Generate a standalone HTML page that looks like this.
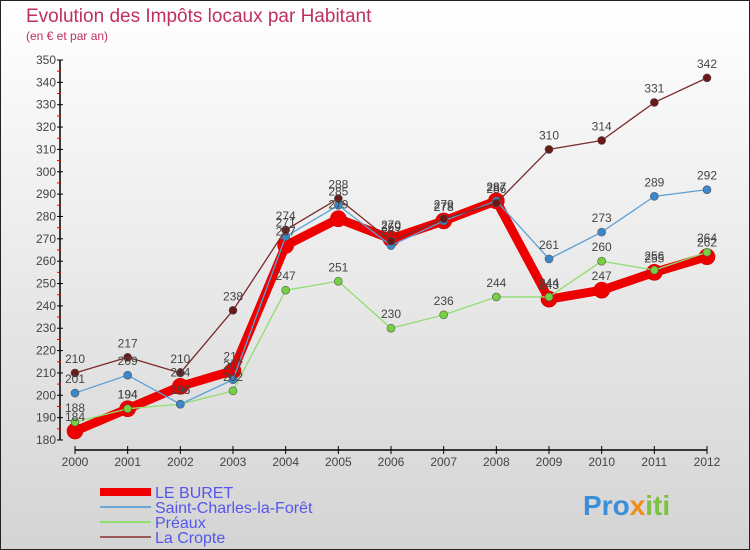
<!DOCTYPE html>
<html><head><meta charset="utf-8"><style>
body{margin:0}
svg{display:block;font-family:"Liberation Sans",sans-serif}
</style></head><body>
<svg id="c" width="750" height="550" viewBox="0 0 750 550">
<defs><linearGradient id="bg" x1="0" y1="0" x2="0" y2="1"><stop offset="0" stop-color="#ffffff"/><stop offset="1" stop-color="#d4d4d4"/></linearGradient></defs>
<rect x="0.5" y="0.5" width="749" height="549" fill="url(#bg)" stroke="#222"/>
<text x="26" y="22" font-size="19" fill="#c0305e">Evolution des Impôts locaux par Habitant</text>
<text x="26" y="40" font-size="12" fill="#c0305e">(en € et par an)</text>
<g id="axes"></g>
<g id="series"></g>
<g id="labels"></g>
<g id="legend"></g>
<text x="583" y="515" font-size="28" font-weight="bold" fill="#3a8fd8">Pro<tspan fill="#f08c1a">x</tspan><tspan fill="#7cc142">iti</tspan></text>
</svg>
<script>
const years=[2000,2001,2002,2003,2004,2005,2006,2007,2008,2009,2010,2011,2012];
const leBuret=[184,194,204,211,267,279,270,278,287,243,247,255,262];
const saintCharles=[201,209,196,207,271,285,267,278,287,261,273,289,292];
const preaux=[188,194,196,202,247,251,230,236,244,244,260,256,264];
const laCropte=[210,217,210,238,274,288,269,279,286,310,314,331,342];
const yTicks=[180,190,200,210,220,230,240,250,260,270,280,290,300,310,320,330,340,350];
const seriesNames=["LE BURET","Saint-Charles-la-Forêt","Préaux","La Cropte"];

const NS="http://www.w3.org/2000/svg";
function X(i){return 75+i*(707-75)/12;}
function Y(v){return 440-(v-180)*(380/170);}
function mk(tag,attrs,parent){const e=document.createElementNS(NS,tag);for(const k in attrs)e.setAttribute(k,attrs[k]);parent.appendChild(e);return e;}
const axes=document.getElementById('axes'),ser=document.getElementById('series'),lab=document.getElementById('labels'),leg=document.getElementById('legend');

let ya=mk('line',{x1:60,y1:Y(350),x2:60,y2:Y(180),stroke:'#000','stroke-width':1.5},axes);


let xa=mk('line',{x1:X(0),y1:450,x2:X(12),y2:450,stroke:'#000','stroke-width':1.5},axes);


yTicks.forEach((t,i)=>{
  const y=Y(t);
  mk('line',{x1:57,y1:y,x2:63,y2:y,stroke:'#000'},axes);
  if(i<yTicks.length-1) mk('line',{x1:57,y1:y-(380/34),x2:61,y2:y-(380/34),stroke:'#e00'},axes);
  const tx=mk('text',{x:56,y:y+4,'font-size':12,fill:'#444','text-anchor':'end'},axes);
  tx.textContent=t;
  
  
});
years.forEach((yr,i)=>{
  mk('line',{x1:X(i),y1:446,x2:X(i),y2:454,stroke:'#000'},axes);
  const tx=mk('text',{x:X(i),y:466,'font-size':12,fill:'#444','text-anchor':'middle'},axes);
  tx.textContent=yr;
  
  
});

const defs=[
 {d:laCropte,c:'#7a2a2a',w:1.3,r:4,fill:'#6a1818',n:'la-cropte'},
 {d:saintCharles,c:'#5aa0d8',w:1.3,r:4,fill:'#3a88cc',n:'saint-charles'},
 {d:preaux,c:'#90dd70',w:1.3,r:4,fill:'#77d040',n:'preaux'},
 {d:leBuret,c:'#ee0000',w:9,r:8,fill:'#ee0000',n:'le-buret'}
];
const order=[3,2,1,0];
order.forEach(k=>{
  const s=defs[k];
  const pts=s.d.map((v,i)=>X(i)+','+Y(v)).join(' ');
  const pl=mk('polyline',{points:pts,fill:'none',stroke:s.c,'stroke-width':s.w,'stroke-linejoin':'round'},ser);
  
  
  s.d.forEach((v,i)=>{
    const c=mk('circle',{cx:X(i),cy:Y(v),r:s.r,fill:s.fill,stroke:k===3?'#c00':'#555','stroke-width':0.6},ser);
    
    
    const t=mk('text',{x:X(i),y:Y(v)-10,'font-size':12,fill:'#444','text-anchor':'middle'},lab);
    t.textContent=v;
    
    
  });
});

const legStyle=[{c:'#ee0000',w:8},{c:'#6aa8d8',w:2},{c:'#90dd70',w:2},{c:'#9a5a5a',w:2}];
seriesNames.forEach((nm,i)=>{
  const y=492+i*15;
  const l=mk('line',{x1:100,y1:y,x2:151,y2:y,stroke:legStyle[i].c,'stroke-width':legStyle[i].w},leg);
  
  
  const t=mk('text',{x:155,y:y+6,'font-size':16,fill:'#5555ee'},leg);
  t.textContent=nm;
  
  
});
</script>
</body></html>
